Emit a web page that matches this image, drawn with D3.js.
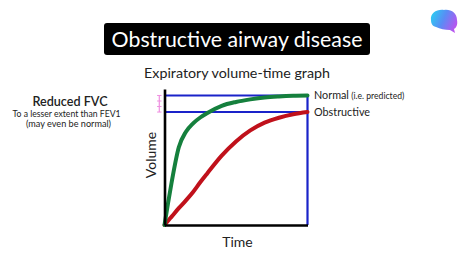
<!DOCTYPE html>
<html>
<head>
<meta charset="utf-8">
<script src="https://cdn.jsdelivr.net/npm/d3@7"></script>
<style>
  html, body { margin: 0; padding: 0; background: #fff; }
  svg { display: block; }
  text { font-family: "Lato", "Open Sans", sans-serif; fill: #222; }
</style>
</head>
<body>
<svg id="chart" width="474" height="266"></svg>
<script>
// Expiratory volume–time curves (time in arbitrary units, volume as fraction of predicted FVC)
const time = [0, 0.25, 0.5, 1, 1.5, 2, 2.5, 3, 4, 5, 6, 7, 8, 9, 10];
const normalVolume = [0, 0.17, 0.33, 0.60, 0.72, 0.785, 0.83, 0.865, 0.92, 0.95, 0.97, 0.985, 0.993, 0.998, 1.0];
const obstructiveVolume = [0, 0.033, 0.065, 0.13, 0.19, 0.255, 0.33, 0.40, 0.535, 0.645, 0.73, 0.79, 0.828, 0.855, 0.872];
const fvcLevels = [
  { name: "Normal", note: " (i.e. predicted)", value: 1.0 },
  { name: "Obstructive", note: "", value: 0.872 }
];

const svg = d3.select("#chart");

// Title banner
const titleG = svg.append("g");
titleG.append("rect")
  .attr("x", 104).attr("y", 23).attr("width", 266).attr("height", 32)
  .attr("rx", 3).attr("fill", "#000");
const title = titleG.append("text")
  .attr("x", 237).attr("y", 46.5).attr("text-anchor", "middle")
  .style("fill", "#fff").style("font-size", "21px")
  .text("Obstructive airway disease");

const subtitle = svg.append("text")
  .attr("x", 237).attr("y", 77.5).attr("text-anchor", "middle")
  .style("font-size", "14.5px")
  .text("Expiratory volume-time graph");

// Fit text to a target width
function fit(sel, w) {
  const n = sel.node();
  const len = n.getComputedTextLength();
  const fs = parseFloat(sel.style("font-size"));
  sel.style("font-size", (fs * w / len) + "px");
}
fit(title, 251);
fit(subtitle, 186);

// Scales
const x = d3.scaleLinear().domain([0, 10]).range([164.5, 307.5]);
const y = d3.scaleLinear().domain([0, 1.05]).range([225, 89]);

// Predicted FVC box and obstructive FVC level
const blue = "#1a23c9";
fvcLevels.forEach(d => {
  svg.append("line")
    .attr("x1", x(0)).attr("x2", x(10)).attr("y1", y(d.value)).attr("y2", y(d.value))
    .attr("stroke", blue).attr("stroke-width", 2);
});
svg.append("line")
  .attr("x1", x(10)).attr("x2", x(10)).attr("y1", y(0)).attr("y2", y(fvcLevels[0].value) - 1)
  .attr("stroke", blue).attr("stroke-width", 2.2);

// Curves
const line = d3.line()
  .x(d => x(d[0]))
  .y(d => y(d[1]))
  .curve(d3.curveMonotoneX);

svg.append("path")
  .datum(time.map((t, i) => [t, obstructiveVolume[i]]))
  .attr("d", line)
  .attr("fill", "none").attr("stroke", "#c0111b").attr("stroke-width", 4)
  .attr("stroke-linecap", "round");

svg.append("path")
  .datum(time.map((t, i) => [t, normalVolume[i]]))
  .attr("d", line)
  .attr("fill", "none").attr("stroke", "#15803d").attr("stroke-width", 4)
  .attr("stroke-linecap", "round");

// Axes (no ticks)
const xAxis = svg.append("g")
  .attr("transform", `translate(0,${y(0)})`)
  .call(d3.axisBottom(x).ticks(0).tickSizeOuter(0));
const yAxis = svg.append("g")
  .attr("transform", `translate(${x(0)},0)`)
  .call(d3.axisLeft(y).ticks(0).tickSizeOuter(0));
[xAxis, yAxis].forEach(g => g.select(".domain").attr("stroke", "#000").attr("stroke-width", 2.6));

// FVC difference marker
const pink = "#ef8fe0";
const mx = 159.3;
const yTop = y(fvcLevels[0].value), yBot = y(fvcLevels[1].value);
svg.append("line").attr("x1", mx).attr("x2", mx).attr("y1", yTop).attr("y2", yBot)
  .attr("stroke", pink).attr("stroke-width", 1.2);
d3.range(4).forEach(i => {
  const yy = yTop + (yBot - yTop) * i / 3;
  svg.append("line").attr("x1", mx - 2.2).attr("x2", mx + 2.2).attr("y1", yy).attr("y2", yy)
    .attr("stroke", pink).attr("stroke-width", 1);
});

// Axis titles
svg.append("text")
  .attr("transform", `translate(155.5,155) rotate(-90)`)
  .attr("text-anchor", "middle").style("font-size", "14px")
  .text("Volume");
svg.append("text")
  .attr("x", 237.5).attr("y", 246.5).attr("text-anchor", "middle")
  .style("font-size", "14px")
  .text("Time");

// Level labels
fvcLevels.forEach(d => {
  const t = svg.append("text")
    .attr("x", 314).attr("y", y(d.value) + 3.8)
    .style("font-size", "10.8px");
  t.append("tspan").text(d.name);
  if (d.note) t.append("tspan").style("font-size", "8.6px").text(d.note);
});

// Left annotation
svg.append("text").attr("x", 70).attr("y", 105.8).attr("text-anchor", "middle")
  .style("font-size", "12.6px").style("font-weight", "600").text("Reduced FVC");
const sub1 = svg.append("text").attr("x", 66.5).attr("y", 116.9).attr("text-anchor", "middle")
  .style("font-size", "8.2px").text("To a lesser extent than FEV1");
const sub2 = svg.append("text").attr("x", 68.5).attr("y", 127.1).attr("text-anchor", "middle")
  .style("font-size", "8.2px").text("(may even be normal)");
fit(sub1, 108);
fit(sub2, 85);

// Brain logo
const defs = svg.append("defs");
const grad = defs.append("linearGradient").attr("id", "brainGrad")
  .attr("x1", "0%").attr("y1", "30%").attr("x2", "100%").attr("y2", "70%");
grad.append("stop").attr("offset", "0%").attr("stop-color", "#2ec8f2");
grad.append("stop").attr("offset", "45%").attr("stop-color", "#5a8cf5");
grad.append("stop").attr("offset", "100%").attr("stop-color", "#c050ee");
svg.append("path")
  .attr("d", "M431,20 C430,13 437,9 444,10 C451,9 457,13 457,20 C458,25 456,28 454,29 L455,33 L450,30 C445,30 440,29 436,27 C432,26 431,23 431,20 Z")
  .attr("fill", "url(#brainGrad)");
</script>
</body>
</html>
